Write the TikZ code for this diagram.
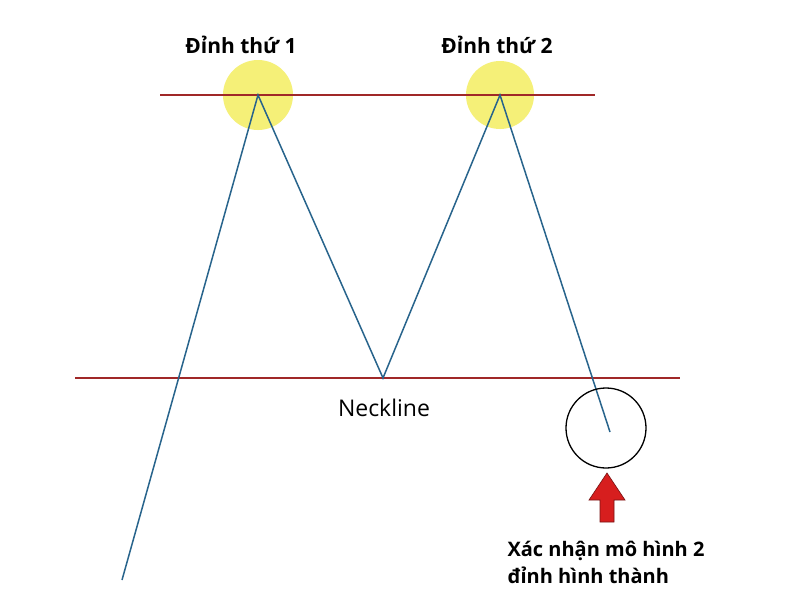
\documentclass[tikz,border=0pt]{standalone}
\usepackage{fontspec}
\setmainfont{Open Sans}
\begin{document}
\begin{tikzpicture}[x=1pt,y=-1pt,
  lvl/.style={draw={rgb,255:red,160;green,40;blue,40},line width=1.5pt},
  price/.style={draw={rgb,255:red,40;green,100;blue,140},line width=1.5pt},
  glow/.style={fill={rgb,255:red,245;green,240;blue,120},draw=none},
  lbl/.style={font=\bfseries\fontsize{21}{25}\selectfont,text=black}]
\useasboundingbox[fill=white] (0,0) rectangle (800,600);
\fill[glow] (258,95) circle (35);
\fill[glow] (500,95) circle (34);
\coordinate (s) at (122,580);
\coordinate (p1) at (258,95);
\coordinate (t) at (383,378);
\coordinate (p2) at (500,95);
\coordinate (e) at (610,432);
\coordinate (a1) at (160,95); \coordinate (a2) at (595,95);
\coordinate (b1) at (75,378); \coordinate (b2) at (680,378);
\draw[lvl] (a1) -- (a2);
\draw[lvl] (b1) -- (b2);
\draw[price] (s) -- (p1) -- (t) -- (p2) -- (e);
\node[draw=black,line width=1.3pt,circle,minimum size=80pt,inner sep=0] (c) at (606,428) {};
\fill[fill={rgb,255:red,215;green,30;blue,30},draw={rgb,255:red,120;green,20;blue,20},line width=0.6pt]
 (607,473) -- (625,500) -- (614,500) -- (614,522) -- (600,522) -- (600,500) -- (589,500) -- cycle;
\node[lbl] (t1) at (241,45) {Đỉnh thứ 1};
\node[lbl] (t2) at (497,45) {Đỉnh thứ 2};
\node[font=\fontsize{23}{27}\selectfont] (nl) at (384,408) {Neckline};
\node[anchor=north west,align=left,font=\bfseries\fontsize{20}{27}\selectfont] (x) at (504,538) {Xác nhận mô hình 2\\đỉnh hình thành};
\end{tikzpicture}
\end{document}
